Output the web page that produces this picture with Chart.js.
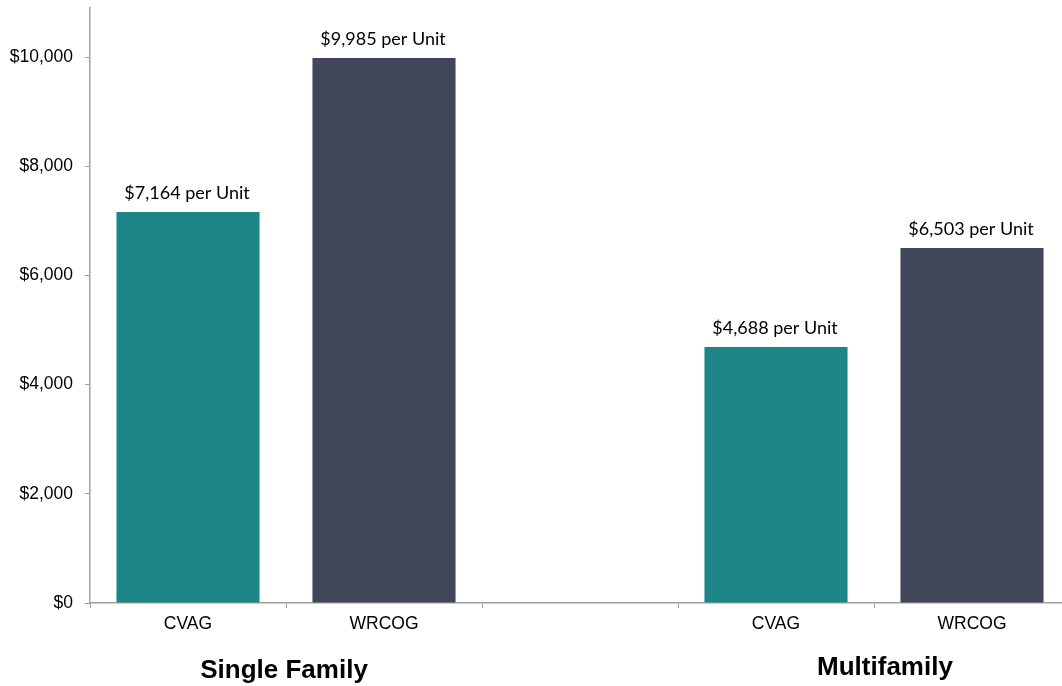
<!DOCTYPE html>
<html>
<head>
<meta charset="utf-8">
<script src="https://cdn.jsdelivr.net/npm/chart.js@4.4.1/dist/chart.umd.min.js"></script>
<style>
  html, body { margin: 0; padding: 0; background: #fff; overflow: hidden; width: 1062px; height: 686px; }
  #wrap { position: absolute; left: 0; top: 0; width: 1070px; height: 686px; }
</style>
</head>
<body>
<div id="wrap"><canvas id="c" width="1070" height="686"></canvas></div>
<script>
const categories = ['CVAG', 'WRCOG', '', 'CVAG', 'WRCOG'];
const cvagValues = [7164, null, null, 4688, null];
const wrcogValues = [null, 9985, null, null, 6503];
const yTicks = [0, 2000, 4000, 6000, 8000, 10000];
const groupLabels = ['Single Family', 'Multifamily'];
const groupCenters = [0.49, 3.556];

const AX = '#a0a0a0';

const groupPlugin = {
  id: 'groupLabels',
  afterDraw(chart) {
    const ctx = chart.ctx;
    const x = chart.scales.x;
    ctx.save();
    ctx.fillStyle = '#000';
    ctx.font = 'bold 26px "Liberation Sans", Arial, sans-serif';
    ctx.textAlign = 'center';
    ctx.textBaseline = 'middle';
    const ys = [671, 668];
    groupLabels.forEach((g, i) => {
      ctx.fillText(g, x.getPixelForValue(groupCenters[i]), ys[i]);
    });
    ctx.restore();
  }
};

const valueLabelPlugin = {
  id: 'valueLabels',
  afterDatasetsDraw(chart) {
    const ctx = chart.ctx;
    ctx.save();
    ctx.fillStyle = '#000';
    ctx.font = '18px Lato, "Open Sans", sans-serif';
    ctx.textAlign = 'center';
    ctx.textBaseline = 'alphabetic';
    chart.data.datasets.forEach((ds, di) => {
      const meta = chart.getDatasetMeta(di);
      meta.data.forEach((bar, i) => {
        const v = ds.data[i];
        if (v === null || v === undefined) return;
        ctx.fillText('$' + v.toLocaleString('en-US') + ' per Unit', bar.x - 1, bar.y - 13);
      });
    });
    ctx.restore();
  }
};

new Chart(document.getElementById('c'), {
  type: 'bar',
  data: {
    labels: categories,
    datasets: [
      { label: 'CVAG', data: cvagValues, backgroundColor: '#1C8586', grouped: false,
        categoryPercentage: 1, barPercentage: 0.73 },
      { label: 'WRCOG', data: wrcogValues, backgroundColor: '#41465B', grouped: false,
        categoryPercentage: 1, barPercentage: 0.73 }
    ]
  },
  options: {
    responsive: false,
    animation: false,
    layout: { padding: { top: 8, left: 0, right: 0, bottom: 0 } },
    plugins: { legend: { display: false }, tooltip: { enabled: false } },
    scales: {
      x: {
        grid: { display: true, drawOnChartArea: false, drawTicks: true, tickLength: 5, color: AX, offset: true },
        border: { display: true, color: AX, width: 1.5 },
        ticks: { color: '#000', font: { family: '"Liberation Sans", Arial, sans-serif', size: 17.5 }, padding: 6, maxRotation: 0 },
        afterFit(s) { s.height = 83; s.paddingLeft = 0; s.paddingRight = 0; }
      },
      y: {
        min: 0, max: 10900,
        grid: { display: true, drawOnChartArea: false, drawTicks: true, tickLength: 5, color: AX },
        border: { display: true, color: AX, width: 1.5 },
        ticks: {
          color: '#000', font: { family: '"Liberation Sans", Arial, sans-serif', size: 17.5 }, padding: 12,
          callback: (v) => '$' + Number(v).toLocaleString('en-US')
        },
        afterBuildTicks(s) { s.ticks = yTicks.map(v => ({ value: v })); },
        afterFit(s) { s.width = 90; s.paddingTop = 0; s.paddingBottom = 0; }
      }
    }
  },
  plugins: [groupPlugin, valueLabelPlugin]
});
</script>
</body>
</html>
